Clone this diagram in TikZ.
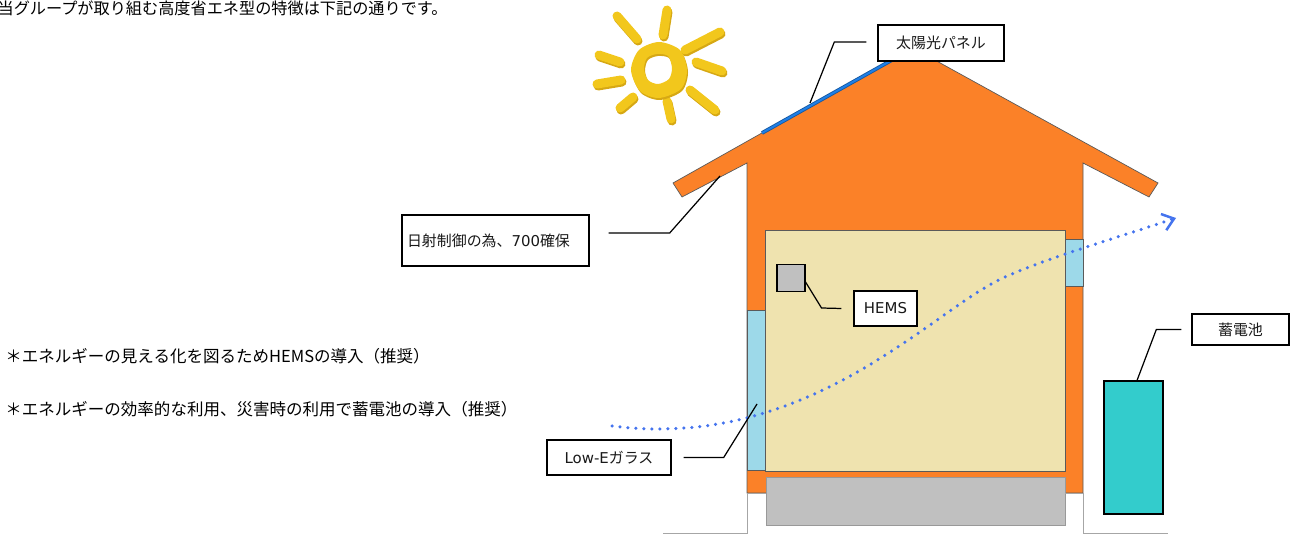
\documentclass[tikz,border=0pt]{standalone}
\usepackage{fontspec}
\setmainfont{Noto Sans CJK JP}
\newfontfamily\latinfont{DejaVu Sans}
\usetikzlibrary{positioning,arrows.meta,calc}
\definecolor{wallorange}{HTML}{FB8128}
\definecolor{roomcream}{HTML}{EFE3AF}
\definecolor{glassblue}{HTML}{9DD9E9}
\definecolor{basegray}{HTML}{C0C0C0}
\definecolor{batterycyan}{HTML}{33CCCC}
\definecolor{sunyellow}{HTML}{F2C71C}
\definecolor{sunshade}{HTML}{D6A814}
\definecolor{panelblue}{HTML}{1F7FE6}
\definecolor{airblue}{HTML}{4574EE}
\definecolor{edgegray}{HTML}{5A5A5A}

\begin{document}
\begin{tikzpicture}[x=0.02cm, y=-0.02cm,
    >=Latex,
    lblbox/.style={draw=black, line width=0.8pt, fill=white, inner sep=0pt,
        text=black!90, font=\fontsize{8.5}{10}\selectfont},
    leader/.style={draw=black, line width=0.7pt},
    note/.style={anchor=west, inner sep=0pt, text=black, font=\fontsize{9.4}{11}\selectfont},
    ray/.style={line width=0.18cm, line cap=round},
    part/.style={draw=edgegray, line width=0.4pt},
    ground/.style={draw=gray!70, line width=0.5pt},
    airflow/.style={draw=airblue, line width=0.07cm, line cap=round,
        dash pattern=on 0pt off 0.16cm,
        -{Straight Barb[length=0.22cm, width=0.34cm, line width=0.05cm]}}
]
\useasboundingbox (0,0) rectangle (1295,540);

% heading and notes
\node[anchor=east, inner sep=0pt, text=black, font=\fontsize{9.2}{11}\selectfont] (intro) at (448,8)
  {当グループが取り組む高度省エネ型の特徴は下記の通りです。};
\node[note] (hemsnote) at (5,356) {＊エネルギーの見える化を図るためHEMSの導入（推奨）};
\node[note] (batnote) at (5,409) {＊エネルギーの効率的な利用、災害時の利用で蓄電池の導入（推奨）};

% sun
\foreach \xa/\ya/\xb/\yb in {617/16/637/39, 667/10/663/35, 685/50/720/32, 696/62/722/71,
    690/90/715/110, 667/101/671/119, 620/108/633/97, 597/84/621/80, 599/55/620/62}{
  \draw[ray, sunshade] (\xa+1,\ya+2) -- (\xb+1,\yb+2);
  \draw[ray, sunyellow] (\xa,\ya) -- (\xb,\yb);
}
\fill[sunshade, even odd rule, shift={(1,2)}]
  plot[smooth cycle] coordinates {(687,70) (680,50) (659,42) (639,50) (631,70) (640,91) (659,98) (681,89)}
  plot[smooth cycle] coordinates {(672,68) (668,56) (657,54) (647,58) (644,69) (648,80) (658,84) (669,79)};
\fill[sunyellow, even odd rule]
  plot[smooth cycle] coordinates {(687,70) (680,50) (659,42) (639,50) (631,70) (640,91) (659,98) (681,89)}
  plot[smooth cycle] coordinates {(672,68) (668,56) (657,54) (647,58) (644,69) (648,80) (658,84) (669,79)};

% house body, roof and eaves
\filldraw[part, fill=wallorange] (673,183) -- (913,48) -- (1158,183) -- (1149,197) -- (1083,163)
  -- (1083,493) -- (747,493) -- (747,163) -- (682,197) -- cycle;
\filldraw[part, fill=roomcream] (765,230) rectangle (1065,471);
\filldraw[part, fill=glassblue] (747,310) rectangle (765,470);
\filldraw[part, fill=glassblue] (1065,239) rectangle (1083,286);
\filldraw[draw=gray!80, line width=0.4pt, fill=basegray] (766,477) rectangle (1065,525);
\draw[ground] (663,533) -- (747,533) -- (747,493) -- (766,493);
\draw[ground] (1065,493) -- (1083,493) -- (1083,533) -- (1168,533);

% solar panel on the roof slope
\draw[panelblue!70!black, line width=0.075cm] (762,133) -- (892,60);
\draw[panelblue, line width=0.04cm] (762,133) -- (892,60);

% equipment
\node[draw=black, line width=0.6pt, fill=basegray, minimum width=0.56cm, minimum height=0.54cm,
  inner sep=0pt] (hems) at (791,278) {};
\node[draw=black, line width=0.6pt, fill=batterycyan, minimum width=1.18cm, minimum height=2.66cm,
  inner sep=0pt] (battery) at (1133.5,447.5) {};

% air flow through the house
\draw[airflow] (612,426) .. controls (800,450) and (920,323) .. (993,283)
  .. controls (1030,263) and (1110,240) .. (1176,218);

% labels
\node[lblbox, minimum width=2.52cm, minimum height=0.72cm] (panellbl) at (941,43) {太陽光パネル};
\node[lblbox, minimum height=1.02cm, text width=3.54cm, inner xsep=0.1cm, align=left] (eavelbl)
  at (495.5,240.5) {日射制御の為、{\latinfont 700}確保};
\node[lblbox, minimum width=1.26cm, minimum height=0.7cm] (hemslbl) at (885.5,308.5) {\latinfont HEMS};
\node[lblbox, minimum width=2.48cm, minimum height=0.7cm] (glasslbl) at (609,457.5) {{\latinfont Low-E}ガラス};
\node[lblbox, minimum width=1.94cm, minimum height=0.62cm] (batterylbl) at (1240.5,329.5) {蓄電池};

\coordinate (panelpt) at (810,103);
\coordinate (eavept) at (720,176);
\coordinate (glasspt) at (757,404);

% leader lines
\draw[leader] ([xshift=-0.22cm, yshift=0.02cm]panellbl.west) -- ++(-32,0) -- (panelpt);
\draw[leader] ([xshift=0.38cm, yshift=0.15cm]eavelbl.east) -- ++(61,0) -- (eavept);
\draw[leader] ([yshift=-0.08cm]hems.east) -- ++(16,26) -- ([xshift=-0.24cm]hemslbl.west);
\draw[leader] ([xshift=0.24cm]glasslbl.east) -- ++(40,0) -- (glasspt);
\draw[leader] ([xshift=-0.2cm]batterylbl.west) -- ++(-25,0) -- ([xshift=0.07cm]battery.north);
\end{tikzpicture}
\end{document}
